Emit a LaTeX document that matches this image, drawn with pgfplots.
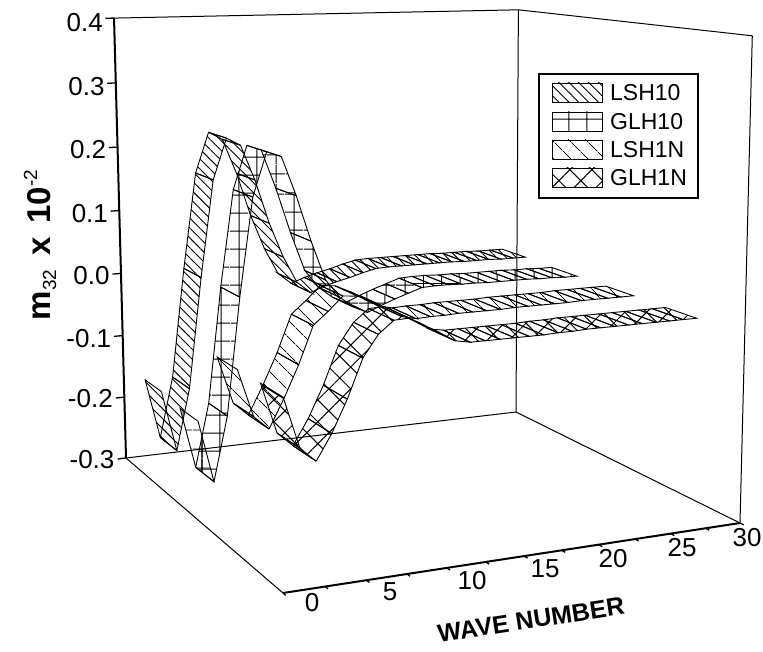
\documentclass[border=0pt]{standalone}
\usepackage{pgfplots}
\usepackage{pgfplotstable}
\pgfplotsset{compat=1.18}
\usetikzlibrary{patterns.meta}
\usepackage{fontspec}
\setmainfont{Liberation Sans}
\pgfplotstableread{
w LSH10 GLH10 LSH1N GLH1N
0 -0.164 -0.169 -0.054 -0.053
1 -0.260 -0.263 -0.123 -0.124
2 -0.164 -0.166 -0.143 -0.144
3 0.009 0.010 -0.102 -0.109
4 0.159 0.156 -0.056 -0.065
5 0.222 0.221 -0.002 -0.012
6 0.210 0.213 0.016 0.018
7 0.155 0.154 0.036 0.035
8 0.086 0.085 0.034 0.036
9 0.031 0.025 0.024 0.024
10 -0.011 -0.003 0.011 0.012
11 -0.029 -0.020 -0.001 -0.001
12 -0.021 -0.030 -0.006 -0.005
13 -0.015 -0.021 -0.005 -0.005
14 -0.010 -0.013 -0.005 -0.005
15 -0.004 -0.006 -0.004 -0.005
16 0.001 0.001 -0.004 -0.005
17 0.002 0.002 -0.004 -0.005
18 0.002 0.002 -0.004 -0.004
19 0.002 0.001 -0.003 -0.004
20 0.002 0.001 -0.003 -0.003
21 0.002 0.000 -0.003 -0.003
22 0.002 0.000 -0.003 -0.003
23 0.001 0.000 -0.003 -0.003
24 0.001 0.000 -0.002 -0.003
25 0.001 -0.001 -0.002 -0.003
26 0.000 -0.001 -0.002 -0.003
27 0.000 -0.002 -0.002 -0.003
28 0.000 -0.002 -0.002 -0.003
}\ribbons
\tikzset{
  declare function={
    WW(\w,\d,\v)=0.73735+0.08637*(0.03+0.032*\w)+0.17628*\d-0.033*(\v+0.3)/0.7;
    PX(\w,\d,\v)=(208.67+400.88*(0.03+0.032*\w)-93.55*\d-14.7*(\v+0.3)/0.7)/WW(\w,\d,\v);
    PY(\w,\d,\v)=(437.25-6.44*(0.03+0.032*\w)-18.81*\d-402.5*(\v+0.3)/0.7)/WW(\w,\d,\v);
  },
  hLSHa/.style={pattern={Lines[angle=-45,distance=7pt,line width=0.9pt]}},
  hGLHa/.style={pattern={Hatch[angle=0,distance=18.4pt,line width=1pt]}},
  hLSHb/.style={pattern={Lines[angle=-45,distance=13pt,line width=1pt]}},
  hGLHb/.style={pattern={Hatch[angle=45,distance=15.5pt,line width=1pt]}},
}
\pgfplotsset{
  table/proj/.style={row sep=\\,
    x expr={PX(\thisrow{w},\thisrow{d},\thisrow{v})},
    y expr={PY(\thisrow{w},\thisrow{d},\thisrow{v})}},
  frame/.style={black,line width=1pt,no markers,forget plot},
  heavy/.style={black,line width=2pt,no markers,forget plot},
}
\newcommand{\ribbon}[4]{% column, near depth, far depth, hatch
  \foreach \i in {0,...,27}{%
    \pgfmathtruncatemacro{\j}{\i+1}%
    \pgfplotstablegetelem{\i}{#1}\of\ribbons \edef\va{\pgfplotsretval}%
    \pgfplotstablegetelem{\j}{#1}\of\ribbons \edef\vb{\pgfplotsretval}%
    \edef\tmp{\noexpand\addplot[black,line width=0.9pt,no markers,forget plot,#4]
      table[proj]{w d v\noexpand\\ \i\space #2 \va\noexpand\\ \j\space #2 \vb\noexpand\\ \j\space #3 \vb\noexpand\\ \i\space #3 \va\noexpand\\ \i\space #2 \va\noexpand\\};}%
    \tmp
  }%
}
\newcommand{\edge}[7]{% style, w d v, w d v
  \addplot[#1] table[proj]{w d v\\ #2 #3 #4\\ #5 #6 #7\\};
}
\newcommand{\lab}[3]{\node[font=\fontsize{26}{26}\selectfont,inner sep=0pt] at (axis cs:#1,#2) {#3};}
\newcommand{\ylab}[3]{\node[anchor=east,font=\fontsize{26}{26}\selectfont,inner sep=0pt] at (axis cs:#1,#2) {#3};}
\newcommand{\leg}[5]{%
  \draw[black,line width=0.9pt,#1] (axis cs:552,#2) rectangle (axis cs:602,#3);
  \node[anchor=west,inner sep=0pt,font=\fontsize{23}{23}\selectfont] at (axis cs:610,#5) {#4};
}
\begin{document}
\begin{tikzpicture}
\begin{axis}[
  scale only axis, width=763pt, height=652pt,
  xmin=0, xmax=763, ymin=0, ymax=652, y dir=reverse,
  axis lines=none, clip=false,
]
\path (axis cs:0,0) rectangle (axis cs:763,652);
% box
\edge{frame}{-0.9375}{1}{-0.3}{30.3125}{1}{-0.3}
\edge{frame}{-0.9375}{0}{-0.3}{-0.9375}{1}{-0.3}
\edge{frame}{30.3125}{0}{-0.3}{30.3125}{1}{-0.3}
\edge{frame}{-0.9375}{1}{0.4}{30.3125}{1}{0.4}
\edge{frame}{30.3125}{1}{0.4}{30.3125}{0}{0.4}
\edge{frame}{30.3125}{1}{-0.3}{30.3125}{1}{0.4}
\edge{frame}{30.3125}{0}{-0.3}{30.3125}{0}{0.4}
\edge{heavy}{-0.9375}{1}{-0.3}{-0.9375}{1}{0.4}
\edge{heavy}{-0.9375}{0}{-0.3}{30.3125}{0}{-0.3}
% value ticks
\pgfplotsinvokeforeach{-0.3,-0.2,-0.1,0.0,0.1,0.2,0.3,0.4}{
  \edge{frame,line width=1.3pt}{-1.55}{1}{#1}{-0.9375}{1}{#1}
}
% wave number ticks
\pgfplotsinvokeforeach{-0.9375,1.667,4.271,6.875,9.479,12.083,14.688,17.292,19.896,22.5,25.104,27.708,30.3125}{
  \edge{frame,line width=1.3pt}{#1}{0}{-0.3}{#1}{-0.014}{-0.3}
}
% ribbons
\ribbon{LSH10}{0.815}{0.935}{hLSHa}
\ribbon{GLH10}{0.565}{0.685}{hGLHa}
\ribbon{LSH1N}{0.315}{0.435}{hLSHb}
\ribbon{GLH1N}{0.065}{0.185}{hGLHb}
% value tick labels
\ylab{103}{23}{0.4}
\ylab{104.7}{87}{0.3}
\ylab{106.4}{150}{0.2}
\ylab{108.1}{214}{0.1}
\ylab{109.7}{276}{0.0}
\ylab{111.4}{339}{-0.1}
\ylab{113}{399}{-0.2}
\ylab{114.6}{460}{-0.3}
% wave number tick labels
\lab{312}{603}{0}
\lab{390}{592}{5}
\lab{472}{581}{10}
\lab{545}{569}{15}
\lab{613}{559}{20}
\lab{682}{548}{25}
\lab{747}{538}{30}
\node[rotate=8.7,font=\bfseries\fontsize{25}{25}\selectfont,inner sep=0pt] at (axis cs:531,620) {WAVE NUMBER};
\node[rotate=90,anchor=base,inner sep=0pt,font=\bfseries\fontsize{33}{33}\selectfont] at (axis cs:50,245)
  {m\raisebox{-6pt}{\mdseries\fontsize{19}{19}\selectfont 32}\hspace{14pt}x\hspace{14pt}10\raisebox{13pt}{\mdseries\fontsize{19}{19}\selectfont -2}};
% legend
\draw[black,line width=1.2pt,fill=white] (axis cs:539,74) rectangle (axis cs:698,198);
\leg{hLSHa}{83}{102}{LSH10}{93}
\leg{hGLHa}{112}{131}{GLH10}{122}
\leg{hLSHb}{140}{159}{LSH1N}{150}
\leg{hGLHb}{168}{187}{GLH1N}{178}
\end{axis}
\end{tikzpicture}
\end{document}
